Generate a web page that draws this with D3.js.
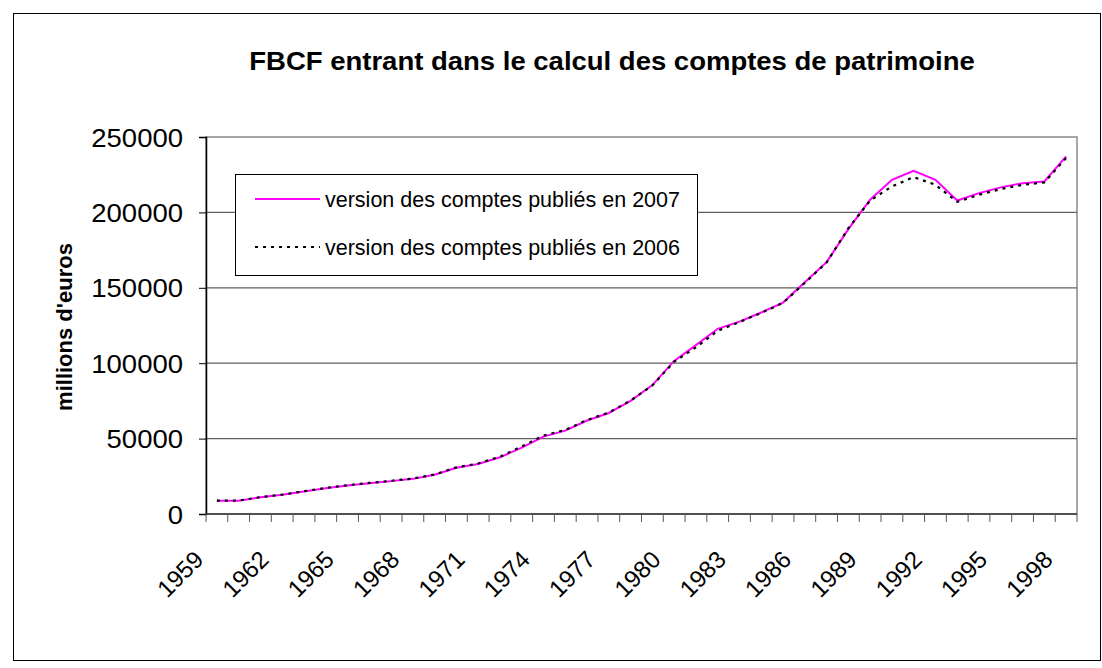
<!DOCTYPE html>
<html>
<head>
<meta charset="utf-8">
<script src="https://cdn.jsdelivr.net/npm/d3@7"></script>
<style>
  body { margin: 0; background: #fff; }
  text { font-family: Arial, "Liberation Sans", sans-serif; fill: #000; }
</style>
</head>
<body>
<script>
var years = [1959, 1960, 1961, 1962, 1963, 1964, 1965, 1966, 1967, 1968,
             1969, 1970, 1971, 1972, 1973, 1974, 1975, 1976, 1977, 1978,
             1979, 1980, 1981, 1982, 1983, 1984, 1985, 1986, 1987, 1988,
             1989, 1990, 1991, 1992, 1993, 1994, 1995, 1996, 1997, 1998];

// version des comptes publiés en 2007
var v2007 = [8800, 8800, 11100, 12700, 14900, 17100, 18900, 20400, 21800, 23300,
             26000, 30700, 33200, 37600, 44000, 51300, 55300, 62000, 67000, 75000,
             85500, 101500, 112000, 122800, 127600, 133600, 140200, 153700, 167000, 188900,
             208400, 221600, 227600, 221600, 207900, 212800, 216600, 219400, 220500, 237100];

// version des comptes publiés en 2006
var v2006 = [8900, 8900, 11200, 12800, 15100, 17300, 19100, 20600, 22000, 23500,
             26200, 30900, 33500, 38000, 44800, 52000, 55800, 62300, 67300, 75200,
             85300, 101000, 110500, 121500, 127300, 133400, 140000, 153300, 166800, 189500,
             207900, 217200, 223400, 218300, 207000, 211700, 215500, 218300, 219900, 236000];

var yTicks = [0, 50000, 100000, 150000, 200000, 250000];
var labelYears = [1959, 1962, 1965, 1968, 1971, 1974, 1977, 1980, 1983, 1986, 1989, 1992, 1995, 1998];

var seriesNames = ["version des comptes publiés en 2007", "version des comptes publiés en 2006"];
var titleText = "FBCF entrant dans le calcul des comptes de patrimoine";

function init() {
    var w = 1102;
    var h = 668;
    var left = 206, right = 1077, top = 137, bottom = 514;

    var svg = d3.select("body")
                .append("svg")
                .attr("width", w)
                .attr("height", h);

    // outer chart border
    svg.append("rect")
        .attr("x", 13.5).attr("y", 13.5)
        .attr("width", 1087).attr("height", 647)
        .attr("fill", "#fff")
        .attr("stroke", "#000")
        .attr("stroke-width", 1);

    var x = d3.scaleBand()
              .domain(years)
              .range([left, right]);

    var y = d3.scaleLinear()
              .domain([0, 250000])
              .range([bottom, top]);

    // plot area border
    svg.append("rect")
        .attr("x", left).attr("y", top)
        .attr("width", right - left).attr("height", bottom - top)
        .attr("fill", "none")
        .attr("stroke", "#8a8a8a")
        .attr("stroke-width", 1.5);

    // gridlines
    svg.append("g")
        .selectAll("line")
        .data(yTicks.filter(function(d) { return d > 0 && d < 250000; }))
        .enter()
        .append("line")
        .attr("x1", left).attr("x2", right)
        .attr("y1", function(d) { return y(d); })
        .attr("y2", function(d) { return y(d); })
        .attr("stroke", "#606060")
        .attr("stroke-width", 1.2);

    // y axis
    var yAxis = svg.append("g")
        .attr("transform", "translate(" + left + ",0)")
        .call(d3.axisLeft(y).tickValues(yTicks).tickSize(7).tickPadding(16).tickFormat(d3.format("d")));
    yAxis.select(".domain").attr("stroke", "#000").attr("stroke-width", 1.5);
    yAxis.selectAll(".tick line").attr("stroke", "#000");
    yAxis.selectAll(".tick text")
        .attr("font-size", 25)
        .attr("font-family", "Arial, 'Liberation Sans', sans-serif")
        .attr("dy", "0.36em")
        .attr("x", null)
        .attr("transform", "translate(-23,0) scale(1.1,1)");

    // x axis: ticks between categories
    var xg = svg.append("g");
    xg.append("line")
        .attr("x1", left).attr("x2", right)
        .attr("y1", bottom).attr("y2", bottom)
        .attr("stroke", "#333")
        .attr("stroke-width", 1.5);
    xg.selectAll("line.tk")
        .data(years.concat(["end"]))
        .enter()
        .append("line")
        .attr("class", "tk")
        .attr("x1", function(d, i) { return i < years.length ? x(d) : right; })
        .attr("x2", function(d, i) { return i < years.length ? x(d) : right; })
        .attr("y1", bottom).attr("y2", bottom + 8)
        .attr("stroke", "#555");

    xg.selectAll("text")
        .data(labelYears)
        .enter()
        .append("text")
        .attr("text-anchor", "end")
        .attr("font-size", 24)
        .attr("transform", function(d) {
            return "translate(" + (x(d) + x.bandwidth() / 2 - 12) + "," + (bottom + 47) + ") rotate(-45)";
        })
        .text(function(d) { return d; });

    // lines
    var line = d3.line()
                 .x(function(d, i) { return x(years[i]) + x.bandwidth() / 2; })
                 .y(function(d) { return y(d); });

    svg.append("path")
        .datum(v2007)
        .attr("d", line)
        .attr("fill", "none")
        .attr("stroke", "#ff00ff")
        .attr("stroke-width", 2);

    svg.append("path")
        .datum(v2006)
        .attr("d", line)
        .attr("fill", "none")
        .attr("stroke", "#000")
        .attr("stroke-width", 2.2)
        .attr("stroke-dasharray", "3,5");

    // title
    svg.append("text")
        .attr("text-anchor", "middle")
        .attr("font-size", 25)
        .attr("font-weight", "bold")
        .attr("transform", "translate(612,70) scale(1.1,1)")
        .text(titleText);

    // y axis title
    svg.append("text")
        .attr("text-anchor", "middle")
        .attr("font-size", 22)
        .attr("font-weight", "bold")
        .attr("transform", "translate(72,327) rotate(-90)")
        .text("millions d'euros");

    // legend
    var lg = svg.append("g");
    lg.append("rect")
        .attr("x", 235.5).attr("y", 174.5)
        .attr("width", 462).attr("height", 101)
        .attr("fill", "#fff")
        .attr("stroke", "#000")
        .attr("stroke-width", 1);

    var legendY = [199, 247];
    lg.append("line")
        .attr("x1", 255).attr("x2", 320)
        .attr("y1", legendY[0]).attr("y2", legendY[0])
        .attr("stroke", "#ff00ff").attr("stroke-width", 2);
    lg.append("line")
        .attr("x1", 255).attr("x2", 320)
        .attr("y1", legendY[1]).attr("y2", legendY[1])
        .attr("stroke", "#000").attr("stroke-width", 2.2)
        .attr("stroke-dasharray", "3,5");

    lg.selectAll("text")
        .data(seriesNames)
        .enter()
        .append("text")
        .attr("x", 325)
        .attr("y", function(d, i) { return legendY[i]; })
        .attr("dy", "0.36em")
        .attr("font-size", 21.5)
        .text(function(d) { return d; });
}

window.onload = init;
</script>
</body>
</html>
